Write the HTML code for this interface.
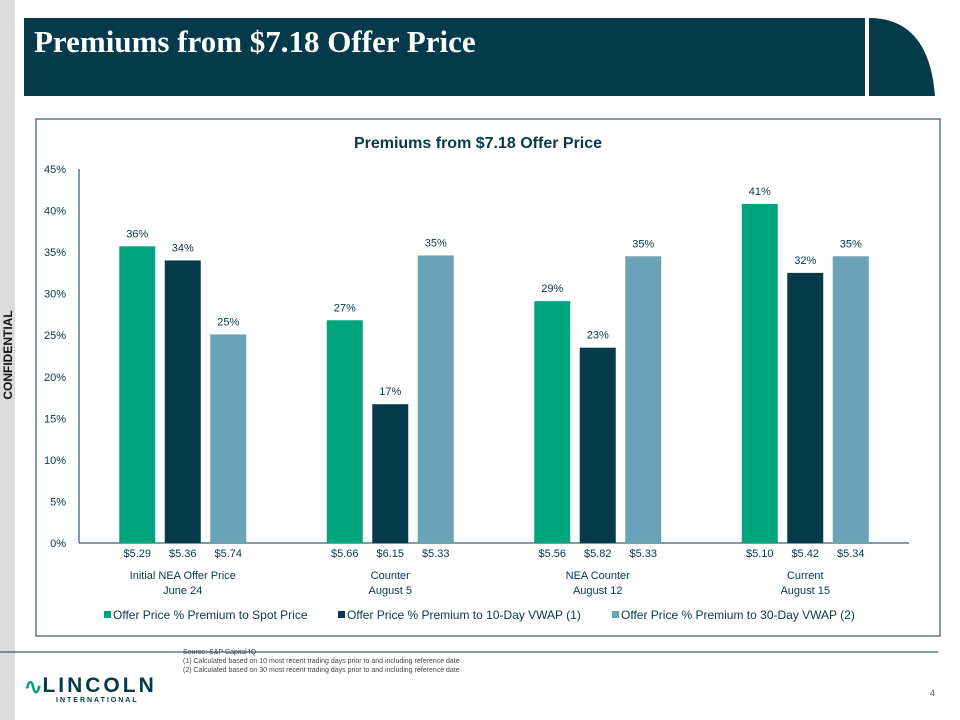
<!DOCTYPE html>
<html><head><meta charset="utf-8"><style>
body{margin:0;width:960px;height:720px;background:#fff;position:relative;overflow:hidden;font-family:"Liberation Sans",sans-serif}
.abs{position:absolute}
</style></head><body>
<div class="abs" style="left:0;top:0;width:15px;height:720px;background:#dcdcdc"></div>
<div class="abs" style="left:-38px;top:348px;width:92px;text-align:center;transform:rotate(-90deg);font-weight:bold;font-size:12px;color:#111">CONFIDENTIAL</div>
<div class="abs" style="left:24px;top:18px;width:841px;height:78px;background:#043a4a"></div>
<div class="abs" style="left:34px;top:24px;font-family:'Liberation Serif',serif;font-weight:bold;font-size:31px;color:#fff">Premiums from $7.18 Offer Price</div>
<svg class="abs" style="left:869px;top:18px" width="70" height="78"><path d="M0 0 Q60 0 66 78 L0 78 Z" fill="#043a4a"/></svg>
<svg class="abs" style="left:0;top:0" width="960" height="720" id="chart">
<rect x="36" y="119" width="904" height="517" fill="none" stroke="#043a4a" stroke-width="1"/>
<text x="478" y="148" text-anchor="middle" font-size="16" font-weight="bold" fill="#043a4a">Premiums from $7.18 Offer Price</text>
<line x1="0" y1="652" x2="938" y2="652" stroke="#043a4a" stroke-width="1"/>
</svg>
<div class="abs" style="left:183px;top:648px;font-size:7px;line-height:9px;color:#444">Source: S&amp;P Capital IQ<br>(1) Calculated based on 10 most recent trading days prior to and including reference date<br>(2) Calculated based on 30 most recent trading days prior to and including reference date</div>
<div class="abs" style="left:24px;top:674px;color:#043a4a">
<span style="color:#00a47d;font-size:22px;font-weight:bold;vertical-align:top">∿</span><span style="font-size:21px;font-weight:bold;letter-spacing:3px">LINCOLN</span>
<div style="font-size:7px;letter-spacing:2px;margin-left:32px;margin-top:-3px;font-weight:bold">INTERNATIONAL</div></div>
<div class="abs" style="left:930px;top:688px;font-size:9px;color:#666">4</div>
<script>
const categories=[["Initial NEA Offer Price","June 24"],["Counter","August 5"],["NEA Counter","August 12"],["Current","August 15"]];
const seriesNames=["Offer Price % Premium to Spot Price","Offer Price % Premium to 10-Day VWAP (1)","Offer Price % Premium to 30-Day VWAP (2)"];
const spot=[35.7,26.8,29.1,40.8];
const vwap10=[34.0,16.7,23.5,32.5];
const vwap30=[25.1,34.6,34.5,34.5];
const labels=[["36%","27%","29%","41%"],["34%","17%","23%","32%"],["25%","35%","35%","35%"]];
const prices=[["$5.29","$5.66","$5.56","$5.10"],["$5.36","$6.15","$5.82","$5.42"],["$5.74","$5.33","$5.33","$5.34"]];
const yTicks=[0,5,10,15,20,25,30,35,40,45];
const colors=["#00a47d","#043a4a","#6aa3b8"];
const svg=document.getElementById('chart');const NS="http://www.w3.org/2000/svg";
const x0=79,gw=207.5,y0=543,yTop=169,yMax=45;
const y=v=>y0-(v/yMax)*(y0-yTop);
const gx=i=>x0+gw*i+gw/2;
function mk(t,a,txt){const e=document.createElementNS(NS,t);for(const k in a)e.setAttribute(k,a[k]);if(txt!==undefined)e.textContent=txt;svg.appendChild(e);return e;}
yTicks.forEach(v=>{const e=mk('text',{x:66,y:y(v)+4,'text-anchor':'end','font-size':11,fill:'#043a4a'},v+'%');

});
const ax=mk('line',{x1:x0,y1:yTop,x2:x0,y2:y0,stroke:'#043a4a'});


const bx=mk('line',{x1:x0,y1:y0,x2:x0+gw*4,y2:y0,stroke:'#043a4a'});


const series=[spot,vwap10,vwap30];const bw=36,off=45.5;
categories.forEach((c,i)=>{
 series.forEach((s,j)=>{const cx=gx(i)+(j-1)*off;
  const r=mk('rect',{x:cx-bw/2,y:y(s[i]),width:bw,height:y0-y(s[i]),fill:colors[j]});
  
  
  const t=mk('text',{x:cx,y:y(s[i])-9,'text-anchor':'middle','font-size':11,fill:'#043a4a'},labels[j][i]);
  
  
  const p=mk('text',{x:cx,y:557,'text-anchor':'middle','font-size':11,fill:'#043a4a'},prices[j][i]);
  
  });
 c.forEach((l,k)=>{const t=mk('text',{x:gx(i),y:579+k*15,'text-anchor':'middle','font-size':11,fill:'#043a4a'},l);
  
  });
});
const lx=[104,338,612];
seriesNames.forEach((n,j)=>{const r=mk('rect',{x:lx[j],y:611,width:7,height:7,fill:colors[j]});


const t=mk('text',{x:lx[j]+9,y:619,'font-size':12,fill:'#043a4a'},n);

});
</script>
</body></html>
